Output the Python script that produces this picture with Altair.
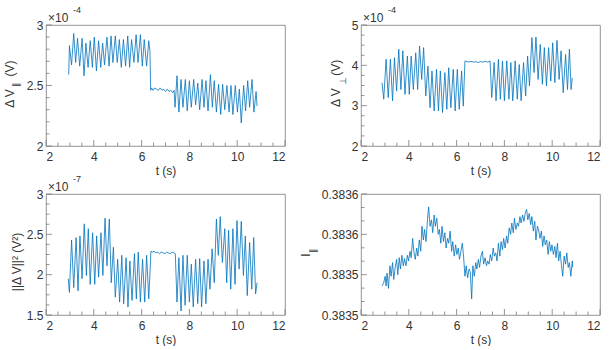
import altair as alt
import pandas as pd

# ---- data -------------------------------------------------------------
# Delta V parallel (x1e-4 V)
t_par = [2.95, 2.98, 3.07, 3.16, 3.24, 3.32, 3.41, 3.51, 3.59, 3.67,
         3.76, 3.85, 3.94, 4.02, 4.11, 4.20, 4.29, 4.37, 4.45, 4.55,
         4.64, 4.72, 4.80, 4.90, 4.98, 5.07, 5.15, 5.24, 5.33, 5.42,
         5.50, 5.58, 5.68, 5.77, 5.85, 5.95, 6.03, 6.11, 6.21, 6.30,
         6.35, 6.38,
         6.42, 6.48, 6.55, 6.62, 6.70, 6.78, 6.85, 6.92, 7.00, 7.08, 7.15, 7.22, 7.30, 7.36,
         7.40, 7.48, 7.56, 7.65, 7.73, 7.83, 7.91, 8.00, 8.08, 8.18,
         8.26, 8.35, 8.43, 8.53, 8.61, 8.69, 8.78, 8.88, 8.96, 9.04,
         9.13, 9.22, 9.31, 9.39, 9.48, 9.57, 9.66, 9.74, 9.82, 9.92,
         10.01, 10.09, 10.17, 10.27, 10.35, 10.44, 10.52, 10.62, 10.70, 10.79,
         10.83]
v_par = [2.59, 2.83, 2.67, 2.93, 2.69, 2.89, 2.66, 2.89, 2.58, 2.85,
         2.65, 2.87, 2.65, 2.90, 2.62, 2.87, 2.65, 2.85, 2.67, 2.90,
         2.66, 2.91, 2.69, 2.91, 2.69, 2.88, 2.65, 2.88, 2.66, 2.91,
         2.65, 2.88, 2.69, 2.92, 2.69, 2.92, 2.66, 2.88, 2.66, 2.87,
         2.78, 2.46,
         2.48, 2.46, 2.48, 2.47, 2.46, 2.48, 2.46, 2.47, 2.45, 2.47, 2.45, 2.46, 2.44, 2.46,
         2.32, 2.58, 2.28, 2.55, 2.32, 2.55, 2.29, 2.54, 2.32, 2.55,
         2.34, 2.52, 2.30, 2.55, 2.32, 2.54, 2.29, 2.59, 2.32, 2.54,
         2.28, 2.51, 2.26, 2.51, 2.30, 2.50, 2.28, 2.50, 2.26, 2.50,
         2.28, 2.47, 2.19, 2.50, 2.29, 2.54, 2.32, 2.55, 2.28, 2.45,
         2.33]

# Delta V perpendicular (x1e-4 V)
t_perp = [2.88, 2.95, 3.05, 3.14, 3.23, 3.32, 3.40, 3.49, 3.58, 3.67,
          3.75, 3.84, 3.94, 4.02, 4.10, 4.19, 4.29, 4.37, 4.45, 4.54,
          4.62, 4.71, 4.80, 4.89, 4.97, 5.06, 5.16, 5.24, 5.32, 5.41,
          5.51, 5.59, 5.67, 5.76, 5.86, 5.94, 6.03, 6.11, 6.21, 6.28,
          6.35,
          6.40, 6.50, 6.60, 6.70, 6.80, 6.90, 7.00, 7.10, 7.20, 7.30, 7.40,
          7.47, 7.57, 7.65, 7.75, 7.83, 7.92, 8.00, 8.10, 8.19, 8.27,
          8.35, 8.45, 8.54, 8.62, 8.70, 8.80, 8.89, 8.97, 9.05, 9.15,
          9.24, 9.32, 9.41, 9.50, 9.59, 9.67, 9.76, 9.85, 9.94, 10.02,
          10.11, 10.20, 10.29, 10.37, 10.46, 10.56, 10.64, 10.72, 10.79, 10.84]
v_perp = [3.57, 3.16, 4.15, 3.20, 4.15, 3.12, 4.19, 3.36, 4.40, 3.40,
          4.36, 3.28, 4.23, 3.28, 4.23, 3.40, 4.31, 3.40, 4.48, 3.65,
          4.44, 3.24, 3.98, 2.95, 3.86, 2.87, 3.90, 2.87, 3.86, 2.83,
          3.82, 2.91, 3.94, 2.95, 3.90, 2.87, 3.90, 2.91, 3.86, 2.99,
          4.11,
          4.10, 4.08, 4.10, 4.08, 4.09, 4.07, 4.09, 4.08, 4.10, 4.08, 4.11,
          3.20, 4.07, 3.12, 4.15, 3.16, 4.11, 3.12, 4.11, 3.16, 4.07,
          3.12, 4.11, 3.16, 4.02, 3.12, 4.07, 3.24, 4.23, 3.49, 4.69,
          3.82, 4.70, 3.65, 4.52, 3.53, 4.44, 3.49, 4.44, 3.61, 4.56,
          3.57, 4.62, 3.65, 4.36, 3.32, 4.27, 3.40, 4.40, 3.40, 3.69]

# squared norm of Delta V (x1e-7 V^2)
t_sq = [2.93, 2.98, 3.07, 3.16, 3.26, 3.34, 3.42, 3.51, 3.60, 3.69,
        3.77, 3.85, 3.95, 4.04, 4.12, 4.20, 4.30, 4.38, 4.47, 4.55,
        4.65, 4.73, 4.82, 4.90, 5.00, 5.08, 5.17, 5.25, 5.35, 5.43,
        5.51, 5.60, 5.70, 5.78, 5.86, 5.95, 6.04, 6.13, 6.21, 6.30,
        6.37, 6.39,
        6.45, 6.52, 6.60, 6.68, 6.75, 6.82, 6.90, 6.98, 7.05, 7.12, 7.20, 7.28, 7.36,
        7.41, 7.48, 7.56, 7.65, 7.73, 7.82, 7.91, 8.00, 8.08, 8.16,
        8.26, 8.35, 8.43, 8.51, 8.61, 8.69, 8.78, 8.86, 8.95, 9.04,
        9.13, 9.21, 9.29, 9.38, 9.48, 9.56, 9.64, 9.73, 9.82, 9.91,
        9.99, 10.08, 10.17, 10.26, 10.34, 10.42, 10.52, 10.61, 10.69, 10.77,
        10.83]
v_sq = [1.95, 1.78, 2.43, 1.84, 2.46, 1.80, 2.48, 1.95, 2.63, 1.99,
        2.57, 1.88, 2.52, 1.88, 2.48, 1.97, 2.52, 1.99, 2.70, 2.11,
        2.69, 1.90, 2.34, 1.72, 2.19, 1.66, 2.24, 1.64, 2.21, 1.60,
        2.17, 1.68, 2.26, 1.70, 2.28, 1.66, 2.19, 1.66, 2.24, 1.70,
        2.15, 2.29,
        2.28, 2.29, 2.27, 2.28, 2.26, 2.28, 2.27, 2.26, 2.28, 2.27, 2.26, 2.28, 2.27,
        2.26, 1.66, 2.21, 1.55, 2.24, 1.62, 2.24, 1.66, 2.13, 1.60,
        2.19, 1.64, 2.20, 1.60, 2.17, 1.64, 2.19, 1.82, 2.32, 1.90,
        2.69, 2.24, 2.72, 2.15, 2.57, 1.90, 2.55, 1.82, 2.57, 1.88,
        2.67, 2.07, 2.66, 1.99, 2.48, 1.74, 2.40, 1.82, 2.46, 1.76,
        1.90]

# I parallel
t_cur = [2.88, 2.95, 3.01, 3.05, 3.09, 3.15, 3.21, 3.26, 3.32, 3.37,
         3.43, 3.49, 3.54, 3.60, 3.65, 3.71, 3.77, 3.82, 3.88, 3.94,
         3.99, 4.05, 4.10, 4.16, 4.22, 4.27, 4.33, 4.38, 4.44, 4.50,
         4.55, 4.61, 4.66, 4.72, 4.78, 4.83, 4.89, 4.95, 5.00, 5.06,
         5.11, 5.17, 5.23, 5.28, 5.34, 5.39, 5.45, 5.51, 5.56, 5.62,
         5.67, 5.73, 5.79, 5.84, 5.90, 5.96, 6.01, 6.07, 6.12, 6.18,
         6.24, 6.29, 6.35, 6.40, 6.46, 6.52, 6.57, 6.63, 6.68, 6.74,
         6.80, 6.85, 6.91, 6.96, 7.02, 7.08, 7.13, 7.19, 7.25, 7.30,
         7.36, 7.41, 7.47, 7.53, 7.58, 7.64, 7.69, 7.75, 7.81, 7.86,
         7.92, 7.97, 8.03, 8.09, 8.14, 8.20, 8.26, 8.31, 8.37, 8.42,
         8.48, 8.54, 8.59, 8.65, 8.70, 8.76, 8.82, 8.87, 8.93, 8.98,
         9.04, 9.10, 9.15, 9.21, 9.27, 9.32, 9.38, 9.43, 9.49, 9.55,
         9.60, 9.66, 9.71, 9.77, 9.83, 9.88, 9.94, 9.99, 10.05, 10.11,
         10.16, 10.22, 10.27, 10.33, 10.39, 10.44, 10.50, 10.56, 10.61, 10.67,
         10.72, 10.78, 10.84, 10.86]
v_cur = [0.383486, 0.383490, 0.383498, 0.383486, 0.383502, 0.383483, 0.383511, 0.383498, 0.383515, 0.383494,
         0.383509, 0.383519, 0.383500, 0.383521, 0.383507, 0.383524, 0.383511, 0.383520, 0.383511, 0.383524,
         0.383517, 0.383529, 0.383521, 0.383545, 0.383527, 0.383519, 0.383533, 0.383523, 0.383543, 0.383529,
         0.383560, 0.383543, 0.383556, 0.383541, 0.383568, 0.383584, 0.383560, 0.383568, 0.383552, 0.383574,
         0.383560, 0.383570, 0.383550, 0.383556, 0.383539, 0.383560, 0.383541, 0.383552, 0.383533, 0.383545,
         0.383539, 0.383554, 0.383529, 0.383541, 0.383523, 0.383537, 0.383525, 0.383533, 0.383519, 0.383529,
         0.383539, 0.383523, 0.383498, 0.383511, 0.383496, 0.383507, 0.383504, 0.383470, 0.383511, 0.383498,
         0.383515, 0.383507, 0.383519, 0.383509, 0.383523, 0.383529, 0.383513, 0.383521, 0.383511, 0.383517,
         0.383513, 0.383525, 0.383517, 0.383533, 0.383523, 0.383527, 0.383517, 0.383539, 0.383523, 0.383541,
         0.383531, 0.383545, 0.383533, 0.383548, 0.383539, 0.383558, 0.383550, 0.383564, 0.383552, 0.383570,
         0.383556, 0.383564, 0.383560, 0.383572, 0.383564, 0.383574, 0.383566, 0.383576, 0.383581, 0.383568,
         0.383576, 0.383562, 0.383572, 0.383554, 0.383566, 0.383543, 0.383560, 0.383556, 0.383545, 0.383554,
         0.383535, 0.383548, 0.383537, 0.383543, 0.383525, 0.383541, 0.383529, 0.383537, 0.383525, 0.383535,
         0.383521, 0.383539, 0.383517, 0.383529, 0.383511, 0.383498, 0.383523, 0.383513, 0.383527, 0.383509,
         0.383515, 0.383498, 0.383517, 0.383509]

# axis ticks
x_major = [2, 4, 6, 8, 10, 12]
x_minor = [2.5, 3, 3.5, 4.5, 5, 5.5, 6.5, 7, 7.5, 8.5, 9, 9.5, 10.5, 11, 11.5]
y_par_major = [2, 2.5, 3]
y_par_minor = [2.1, 2.2, 2.3, 2.4, 2.6, 2.7, 2.8, 2.9]
y_perp_major = [2, 3, 4, 5]
y_perp_minor = [2.25, 2.5, 2.75, 3.25, 3.5, 3.75, 4.25, 4.5, 4.75]
y_sq_major = [1.5, 2, 2.5, 3]
y_sq_minor = [1.625, 1.75, 1.875, 2.125, 2.25, 2.375, 2.625, 2.75, 2.875]
y_cur_major = [0.38345, 0.3835, 0.38355, 0.3836]
y_cur_minor = [0.3834667, 0.3834833, 0.3835167, 0.3835333, 0.3835667, 0.3835833]

# ---- styling ----------------------------------------------------------
W, H = 239, 121
BLUE = "#0072BD"
INK = "#333333"
FRAME = "#7a7a7a"
FONT = "Liberation Sans"
MAJ, MIN = 6, 3.5


def text_layer(txt, x, y, size=12, angle=0, align="center", baseline="middle"):
    return alt.Chart(pd.DataFrame({"s": [txt]})).mark_text(
        font=FONT, fontSize=size, color=INK, angle=angle, align=align, baseline=baseline
    ).encode(text="s:N", x=alt.value(x), y=alt.value(y))


def panel(t, v, ydom, ymaj, ymin, ylabel, extra):
    xs = alt.Scale(domain=[2, 12], nice=False, zero=False)
    ys = alt.Scale(domain=ydom, nice=False, zero=False)
    xa = alt.Axis(values=x_major, format="d", title="t (s)", labelPadding=5, titlePadding=3)
    ya = alt.Axis(values=ymaj, title=None, labelPadding=3, **ylabel)

    line = alt.Chart(pd.DataFrame({"t": t, "v": v})).mark_line(
        color=BLUE, strokeWidth=0.8, strokeJoin="round"
    ).encode(
        x=alt.X("t:Q", scale=xs, axis=xa),
        y=alt.Y("v:Q", scale=ys, axis=ya),
    )

    def xt(vals, L):
        return alt.Chart(pd.DataFrame({"t": vals})).mark_rule(color=FRAME, strokeWidth=0.8).encode(
            x=alt.X("t:Q", scale=xs, axis=xa), y=alt.value(H), y2=alt.value(H - L))

    def yt(vals, L):
        return alt.Chart(pd.DataFrame({"v": vals})).mark_rule(color=FRAME, strokeWidth=0.8).encode(
            y=alt.Y("v:Q", scale=ys, axis=ya), x=alt.value(0), x2=alt.value(L))

    layers = [line, xt(x_major, MAJ), xt(x_minor, MIN), yt(ymaj, MAJ), yt(ymin, MIN)] + extra
    return alt.layer(*layers).properties(width=W, height=H)


def exponent(p):
    return [text_layer("\u00d710", 2, -3, 12, align="left", baseline="alphabetic"),
            text_layer(p, 27, -12, 9, align="left", baseline="alphabetic")]


p1 = panel(t_par, v_par, [2, 3], y_par_major, y_par_minor, {"format": "~g"},
           exponent("-4") + [
               text_layer("\u0394 V", -36.5, 73.5, 12, angle=270),
               text_layer("\u2225", -30, 59.5, 9, angle=270),
               text_layer("(V)", -36.5, 43.5, 12, angle=270),
           ])
p2 = panel(t_perp, v_perp, [2, 5], y_perp_major, y_perp_minor, {"format": "~g"},
           exponent("-4") + [
               text_layer("\u0394 V", -25, 72.7, 12, angle=270),
               text_layer("\u22a5", -18, 56, 9, angle=270),
               text_layer("(V)", -25, 42.7, 12, angle=270),
           ])
p3 = panel(t_sq, v_sq, [1.5, 3], y_sq_major, y_sq_minor, {"format": "~g"},
           exponent("-7") + [
               text_layer("||\u0394 V||\u00b2 (V\u00b2)", -29, 68, 12, angle=270),
           ])
p4 = panel(t_cur, v_cur, [0.38345, 0.3836], y_cur_major, y_cur_minor,
           {"labelExpr": "format(datum.value + 1e-9, '.4f')"},
           [
               text_layer("I", -55, 61, 12, angle=270),
               text_layer("\u2225", -48, 56, 9, angle=270),
           ])

chart = alt.concat(
    p1, p2, p3, p4, columns=2, spacing={"row": 48, "column": 76}, bounds="flush"
).properties(
    padding={"left": 3, "top": 5, "right": 0, "bottom": 0},
    background="white",
).configure_view(
    stroke=FRAME, strokeWidth=0.8
).configure_axis(
    labelFont=FONT, labelFontSize=12, labelColor=INK,
    titleFont=FONT, titleFontSize=12, titleColor=INK, titleFontWeight="normal",
    ticks=False, domain=False, grid=False,
)

chart.save("out.html", embed_options={"renderer": "svg", "actions": False})
